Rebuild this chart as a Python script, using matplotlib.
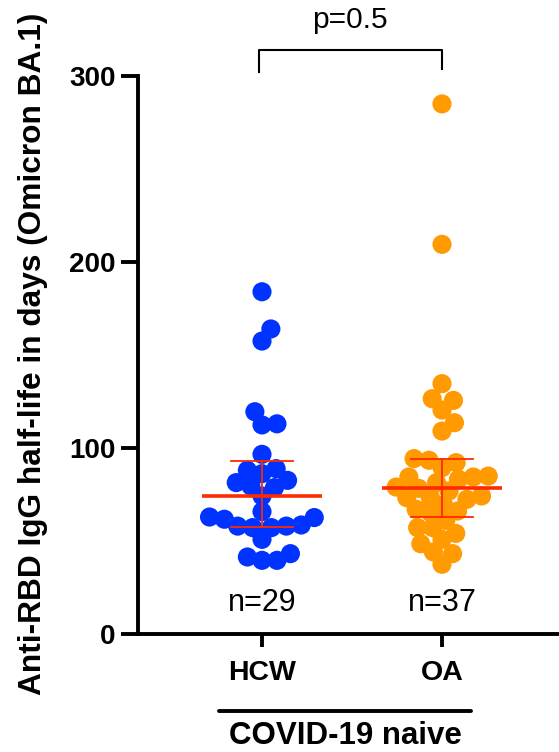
import numpy as np
import matplotlib
matplotlib.use("Agg")
import matplotlib.pyplot as plt
from matplotlib.lines import Line2D

plt.rcParams['font.family'] = ['Liberation Sans', 'DejaVu Sans']

# half-life values (days)
groups = ['HCW', 'OA']
hcw = [184, 164, 157.5, 119.5, 112.4, 113, 96.6, 86.2, 88, 88.9, 82.6, 79.6, 78.7,
       81.4, 74.2, 65.8, 61.7, 62.6, 62.9, 58, 57.2, 58, 58.6, 57.2, 50.9, 39.6,
       41.4, 43.2, 39.6]
oa = [285, 209.5, 134.6, 126.5, 125.6, 120.4, 113.6, 109.1, 94.3, 93.4, 92.1, 89.4,
      84.9, 84.4, 83.2, 84.4, 81.4, 79, 78.3, 76.9, 74.2, 72.4, 73.3, 73.3, 69.4,
      67, 65.2, 66.1, 61.1, 57.2, 57.2, 54.1, 50.9, 48.5, 44.1, 43.2, 37.5]
colors = ['#0033ff', '#ff9a00']
p_text = 'p=0.5'
subtitle = 'COVID-19 naive'
ylabel = 'Anti-RBD IgG half-life in days (Omicron BA.1)'


def swarm(vals, dx, dy):
    # simple beeswarm: smallest offset that does not overlap placed points
    vals = np.asarray(vals, float)
    offs = np.zeros(len(vals))
    placed = []
    for i in np.argsort(vals):
        y = vals[i]
        cands = [0.0]
        for px, py in placed:
            t = (y - py) / dy
            if abs(t) < 1:
                h = np.sqrt(1 - t * t) * dx
                cands += [px + h, px - h]
        cands.sort(key=abs)
        for c in cands:
            if all(((c - px) / dx) ** 2 + ((y - py) / dy) ** 2 >= 0.999 for px, py in placed):
                break
        placed.append((c, y))
        offs[i] = c
    return offs


fig = plt.figure(figsize=(5.59, 7.52), dpi=100)
W, H = 559, 752
ax = fig.add_axes([138 / W, 1 - 634 / H, 1 - 138 / W, (634 - 76) / H])
ax.set_xlim(1 - 124 / 180, 2 + 117 / 180)
ax.set_ylim(0, 300)

# pixel -> data scales for the swarm spacing
px_x = 1 / 180
px_y = 300 / 558
dpx = 15

for k, (vals, col) in enumerate(zip([hcw, oa], colors)):
    xc = k + 1
    offs = swarm(vals, dpx * px_x, dpx * px_y)
    ax.scatter(xc + offs, vals, s=190, color=col, edgecolors='none', zorder=2, clip_on=False)
    med = np.median(vals)
    q1, q3 = np.percentile(vals, [25, 75], method='weibull')
    ax.plot([xc - 0.335, xc + 0.335], [med, med], color='#ff2a00', lw=2.6, zorder=3, solid_capstyle='butt')
    ax.plot([xc, xc], [q1, q3], color='#ff2a00', lw=1.3, zorder=3)
    for q in (q1, q3):
        ax.plot([xc - 0.17, xc + 0.17], [q, q], color='#ff2a00', lw=1.3, zorder=3)
    ax.text(xc, 16.5, 'n=%d' % len(vals), ha='center', va='center', fontsize=22)

# significance bracket
ax.plot([0.985, 0.985, 2, 2], [302, 314, 314, 304], color='black', lw=1.5, clip_on=False)
ax.text(1.49, 330, p_text, ha='center', va='center', fontsize=21.5)

for side in ['top', 'right']:
    ax.spines[side].set_visible(False)
for side in ['left', 'bottom']:
    ax.spines[side].set_linewidth(2.8)

ax.set_yticks([0, 100, 200, 300])
ax.set_xticks([1, 2])
ax.set_xticklabels(groups)
ax.tick_params(axis='y', length=12, width=2.8, pad=4, labelsize=20)
ax.tick_params(axis='x', length=9.5, width=2.8, pad=9, labelsize=20.5)
for lab in ax.get_xticklabels() + ax.get_yticklabels():
    lab.set_fontweight('bold')

fig.text(33 / W, 1 - 354 / H, ylabel, rotation=90, ha='center', va='center',
         fontsize=22.8, fontweight='bold')

fig.add_artist(Line2D([219 / W, 471 / W], [1 - 711 / H, 1 - 711 / H], color='black', lw=2.8,
                      solid_capstyle='round'))
fig.text(345 / W, 1 - 736 / H, subtitle, ha='center', va='center', fontsize=22.5, fontweight='bold')

fig.savefig('out.png', dpi=100)
